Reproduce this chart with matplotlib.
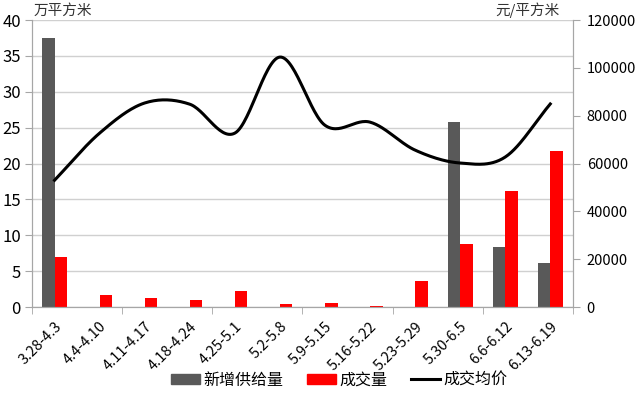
import numpy as np
import matplotlib.pyplot as plt
from matplotlib.lines import Line2D
from matplotlib.patches import Patch

plt.rcParams['font.family'] = ['Noto Sans CJK SC', 'DejaVu Sans']

weeks = ['3.28-4.3', '4.4-4.10', '4.11-4.17', '4.18-4.24', '4.25-5.1', '5.2-5.8',
         '5.9-5.15', '5.16-5.22', '5.23-5.29', '5.30-6.5', '6.6-6.12', '6.13-6.19']
new_supply = [37.5, 0, 0, 0, 0, 0, 0, 0, 0, 25.8, 8.4, 6.2]
deals = [7.0, 1.7, 1.3, 1.0, 2.2, 0.4, 0.5, 0.2, 3.6, 8.8, 16.2, 21.8]
avg_price = [53000, 72700, 85300, 84800, 72700, 104500, 76000, 77300, 65600, 60200, 62700, 84900]

GRAY = '#595959'
RED = '#ff0000'
AXIS = '#a6a6a6'


def smooth(xs, ys, n=30):
    # Catmull-Rom style smoothing, similar to Excel's smoothed line
    xs = np.asarray(xs, float)
    ys = np.asarray(ys, float)
    px = np.concatenate([[2 * xs[0] - xs[1]], xs, [2 * xs[-1] - xs[-2]]])
    py = np.concatenate([[2 * ys[0] - ys[1]], ys, [2 * ys[-1] - ys[-2]]])
    out_x, out_y = [], []
    for i in range(1, len(px) - 2):
        t = np.linspace(0, 1, n, endpoint=False)
        for p, out in ((px, out_x), (py, out_y)):
            p0, p1, p2, p3 = p[i - 1], p[i], p[i + 1], p[i + 2]
            out.extend(0.5 * (2 * p1 + (-p0 + p2) * t + (2 * p0 - 5 * p1 + 4 * p2 - p3) * t ** 2
                              + (-p0 + 3 * p1 - 3 * p2 + p3) * t ** 3))
    out_x.append(xs[-1])
    out_y.append(ys[-1])
    return np.array(out_x), np.array(out_y)


fig = plt.figure(figsize=(6.4, 3.97), dpi=100)
ax = fig.add_axes([0.05, 0.2267, 0.845, 0.7229])
ax2 = ax.twinx()

x = np.arange(len(weeks))
w = 0.28
ax.bar(x - w / 2, new_supply, w, color=GRAY, zorder=2)
ax.bar(x + w / 2, deals, w, color=RED, zorder=2)

ax.set_ylim(0, 40)
ax.set_yticks(range(0, 41, 5))
ax.set_xlim(-0.5, len(weeks) - 0.5)
ax.grid(axis='y', color='#d0d0d0', linewidth=1, zorder=0)
ax.set_axisbelow(True)

ax.set_xticks(x)
ax.set_xticklabels(weeks, rotation=45, ha='right', rotation_mode='anchor', fontsize=10.5)
ax.tick_params(axis='x', length=0, pad=9)
ax.set_xticks(np.arange(-0.5, len(weeks), 2), minor=True)
ax.tick_params(axis='x', which='minor', length=5, color=AXIS, direction='out')
ax.tick_params(axis='y', labelsize=12, length=5, color=AXIS, pad=3)

sx, sy = smooth(x, avg_price)
ax2.plot(sx, sy, color='black', linewidth=2.2, zorder=3)
ax2.set_ylim(0, 120000)
ax2.set_yticks(range(0, 120001, 20000))
ax2.tick_params(axis='y', labelsize=10.5, length=5, color=AXIS, pad=5)

for a in (ax, ax2):
    a.spines['top'].set_visible(False)
    for s in ('left', 'right', 'bottom'):
        a.spines[s].set_color(AXIS)

fig.text(0.052, 0.955, '万平方米', fontsize=10.5, color='#333333', va='bottom')
fig.text(0.875, 0.955, '元/平方米', fontsize=10.5, color='#333333', va='bottom', ha='right')

handles = [Patch(color=GRAY), Patch(color=RED), Line2D([], [], color='black', linewidth=2.2)]
fig.legend(handles, ['新增供给量', '成交量', '成交均价'], loc='center', bbox_to_anchor=(0.53, 0.042),
           ncol=3, frameon=False, fontsize=11.5, handlelength=1.8, handleheight=0.6, columnspacing=1.5,
           handletextpad=0.2)

fig.savefig('out.png', dpi=100)
